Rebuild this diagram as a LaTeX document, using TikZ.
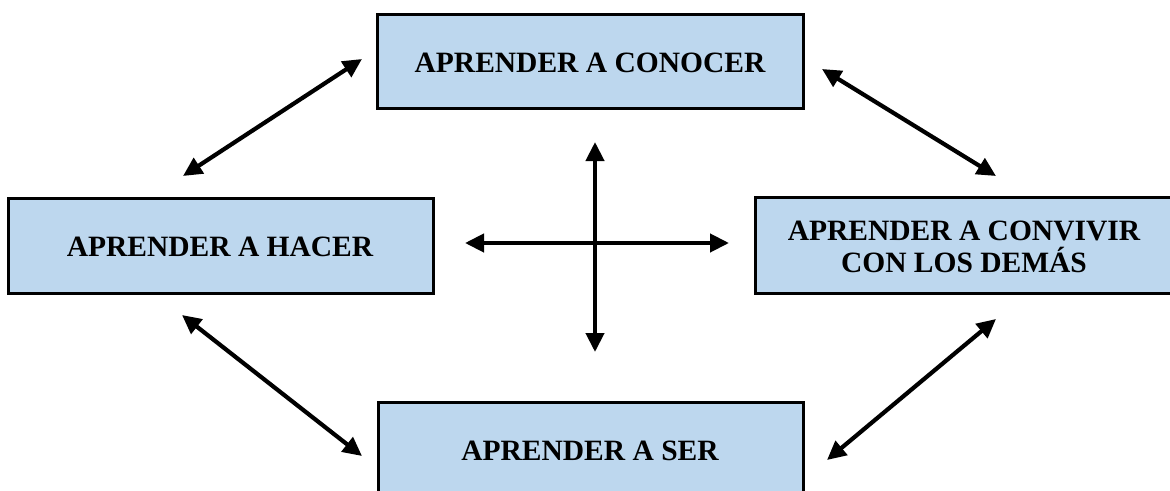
\documentclass[tikz,border=0pt]{standalone}
\usepackage{fontspec}
\setmainfont{Liberation Serif}
\usetikzlibrary{arrows.meta}
\definecolor{boxblue}{HTML}{BDD7EE}
\tikzset{
  box/.style={draw=black, line width=3pt, fill=boxblue, inner sep=0pt},
  lbl/.style={font=\fontsize{29.5}{32}\selectfont\bfseries, align=center},
  dbl/.style={line width=4.2pt, {Triangle[length=19pt,width=18pt]}-{Triangle[length=19pt,width=18pt]}}
}
\begin{document}
\begin{tikzpicture}[x=1pt,y=-1pt]
\useasboundingbox (0,0) rectangle (1170,490);
% boxes
\draw[box] (377,14) rectangle (803,108);
\draw[box] (8,198) rectangle (433,293);
\draw[box] (755,197) rectangle (1175,293);
\draw[box] (378,402) rectangle (803,498);
% labels
\node[lbl] (conocer) at (590,63) {APRENDER A CONOCER};
\node[lbl] (hacer) at (220,247) {APRENDER A HACER};
\node[lbl] (convivir) at (964,247) {APRENDER A CONVIVIR\\CON LOS DEMÁS};
\node[lbl] (ser) at (590,451) {APRENDER A SER};
% arrow ends
\coordinate (a1) at (183,176); \coordinate (a2) at (362,59);
\coordinate (b1) at (822,69);  \coordinate (b2) at (996,176);
\coordinate (c1) at (182,315); \coordinate (c2) at (362,456);
\coordinate (d1) at (827,460); \coordinate (d2) at (996,319);
\coordinate (v1) at (595,142); \coordinate (v2) at (595,352);
\coordinate (h1) at (465,243); \coordinate (h2) at (729,243);
\draw[dbl] (a1) -- (a2);
\draw[dbl] (b1) -- (b2);
\draw[dbl] (c1) -- (c2);
\draw[dbl] (d1) -- (d2);
\draw[dbl] (v1) -- (v2);
\draw[dbl] (h1) -- (h2);
\end{tikzpicture}
\end{document}
